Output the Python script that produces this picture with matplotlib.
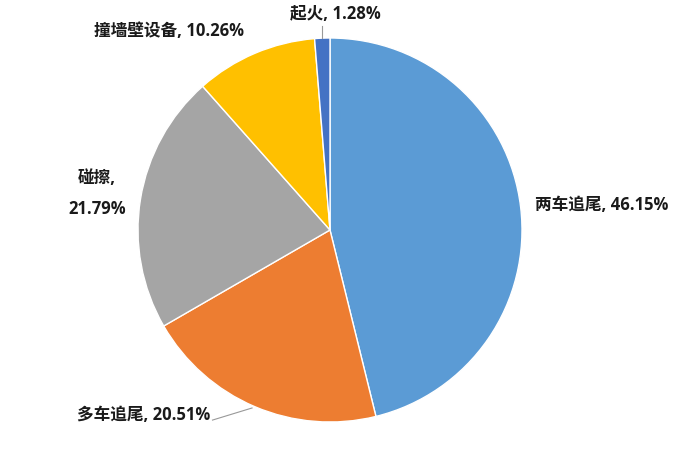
import matplotlib.pyplot as plt

plt.rcParams['font.family'] = ['Open Sans', 'Noto Sans CJK SC', 'DejaVu Sans']

# Data
labels = ['两车追尾', '多车追尾', '碰擦', '撞墙壁设备', '起火']
shares = [46.15, 20.51, 21.79, 10.26, 1.28]
colors = ['#5B9BD5', '#ED7D31', '#A5A5A5', '#FFC000', '#4472C4']

fig = plt.figure(figsize=(6.99, 4.54), dpi=100)
ax = fig.add_axes([(330 - 192) / 699, (454 - 230 - 192) / 454, 384 / 699, 384 / 454])

ax.pie(shares, colors=colors, startangle=90, counterclock=False,
       wedgeprops=dict(edgecolor='white', linewidth=1))
ax.set_xlim(-1, 1)
ax.set_ylim(-1, 1)
ax.set_aspect('equal')

txt = [f'{l}, {v:.2f}%' for l, v in zip(labels, shares)]
style = dict(fontsize=12, fontweight='bold', color='#1a1a1a', clip_on=False)

ax.text(1.068, 0.13, txt[0], ha='left', va='center', **style)
ax.text(-0.625, -0.963, txt[1], ha='right', va='center', **style)
ax.text(-1.215, 0.19, f'{labels[2]},\n{shares[2]:.2f}%', ha='center', va='center',
        linespacing=1.9, **style)
ax.text(-0.84, 1.036, txt[3], ha='center', va='center', **style)
ax.text(0.026, 1.125, txt[4], ha='center', va='center', **style)

# leader lines
ax.plot([-0.042, -0.042], [1.06, 1.0], color='#999999', lw=0.8, clip_on=False)
ax.plot([-0.612, -0.406], [-0.99, -0.927], color='#999999', lw=0.8, clip_on=False)

fig.savefig('out.png', dpi=100)
